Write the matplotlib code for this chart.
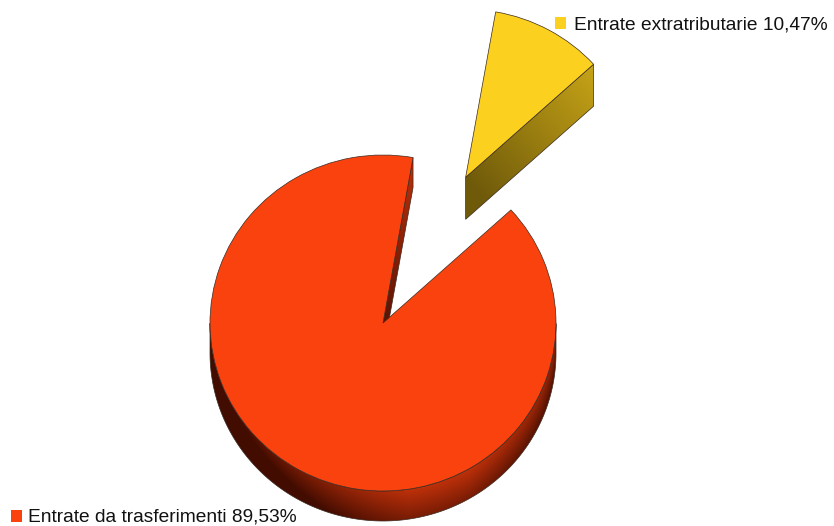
import numpy as np
import matplotlib
matplotlib.use('Agg')
import matplotlib.pyplot as plt
from matplotlib.patches import Polygon, Rectangle
from matplotlib.transforms import Affine2D

plt.rcParams['font.family'] = ['Liberation Sans', 'DejaVu Sans']

# composizione delle entrate (%)
labels = ['Entrate da trasferimenti', 'Entrate extratributarie']
shares = [89.53, 10.47]
colors = ['#fa420e', '#fcd01f']
darks = [(0.20, 0.03, 0.0), (0.30, 0.24, 0.02)]
explode = [0, 0.99]

W, H = 834, 526
cx, cy, rx, ry = 383, 323, 173, 168   # ellisse della faccia superiore (pixel)
depth = [30, 42]                      # spessore visibile di ogni fetta

fig = plt.figure(figsize=(W / 100, H / 100), dpi=100)
ax = fig.add_axes([0, 0, 1, 1])
wedges, _ = ax.pie(shares, colors=colors, explode=explode, startangle=80,
                   counterclock=True,
                   wedgeprops=dict(edgecolor='#3a2a20', linewidth=0.5))
ax.set_aspect('auto')
ax.set_xlim(0, W)
ax.set_ylim(H, 0)
ax.axis('off')

# faccia superiore: cerchio unitario -> ellisse in pixel
unit = Affine2D().scale(rx, -ry).translate(cx, cy) + ax.transData
for w in wedges:
    w.set_transform(unit)
    w.set_zorder(3)

X, Y = np.meshgrid(np.arange(W) + 0.5, np.arange(H) + 0.5)


def to_px(px, py):
    return cx + rx * px, cy - ry * py


def shade(xy, base, dark, mix, z=1):
    mix = np.clip(mix, 0, 1)[..., None]
    rgb = np.array(base) * (1 - mix) + np.array(dark) * mix
    img = np.dstack([rgb, np.ones((H, W))])
    clip = Polygon(xy, closed=True, transform=ax.transData, facecolor='none',
                   edgecolor='#3a2a20', linewidth=0.5, zorder=z + 0.5)
    ax.add_patch(clip)
    im = ax.imshow(img, extent=(0, W, H, 0), zorder=z, interpolation='bilinear')
    im.set_clip_path(clip)
    ax.set_xlim(0, W)
    ax.set_ylim(H, 0)


for w, col, dk, d in zip(wedges, colors, darks, depth):
    base = matplotlib.colors.to_rgb(col)
    ox, oy = w.center
    t1, t2 = w.theta1, w.theta2
    wcx, wcy = to_px(ox, oy)

    # bordo esterno (parte inferiore dell'ellisse)
    th = np.radians(np.linspace(t1, t2, 600))
    th = th[np.sin(th) < 0]
    if th.size:
        ax_, ay_ = to_px(ox + np.cos(th), oy + np.sin(th))
        xy = np.vstack([np.column_stack([ax_, ay_]),
                        np.column_stack([ax_[::-1], ay_[::-1] + d])])
        u = (X - wcx) / rx
        ytop = wcy + ry * np.sqrt(np.clip(1 - u ** 2, 0, 1))
        t = np.clip((Y - ytop) / d, 0, 1)
        mix = (0.3 + 0.35 * t + 0.6 * np.clip(0.15 - u, 0, None)
               + 0.45 * np.clip(u - 0.5, 0, None))
        shade(xy, base, dk, np.minimum(mix, 0.92))

    # facce di taglio visibili
    for ang, nrm in ((t1, t1 - 90), (t2, t2 + 90)):
        if np.sin(np.radians(nrm)) >= 0:
            continue
        a = np.radians(ang)
        ex, ey = to_px(ox + np.cos(a), oy + np.sin(a))
        xy = [(wcx, wcy), (ex, ey), (ex, ey + d), (wcx, wcy + d)]
        vx, vy = ex - wcx, ey - wcy
        s = np.clip(((X - wcx) * vx + (Y - wcy) * vy) / (vx ** 2 + vy ** 2), 0, 1)
        mix = 0.8 - 0.5 * s
        shade(xy, base, dk, mix)

# etichette
pos = [(11, 510, 28, 521.5), (555, 17, 574, 29)]
for lab, val, col, (sx, sy, tx, ty) in zip(labels, shares, colors, pos):
    ax.add_patch(Rectangle((sx, sy), 11.5, 11.5, facecolor=col, edgecolor='none', zorder=5))
    ax.text(tx, ty, f'{lab} {val:.2f}%'.replace('.', ','), fontsize=13.8,
            color='#111111', va='baseline', ha='left', zorder=5)

fig.savefig('out.png', dpi=100, facecolor='white')
